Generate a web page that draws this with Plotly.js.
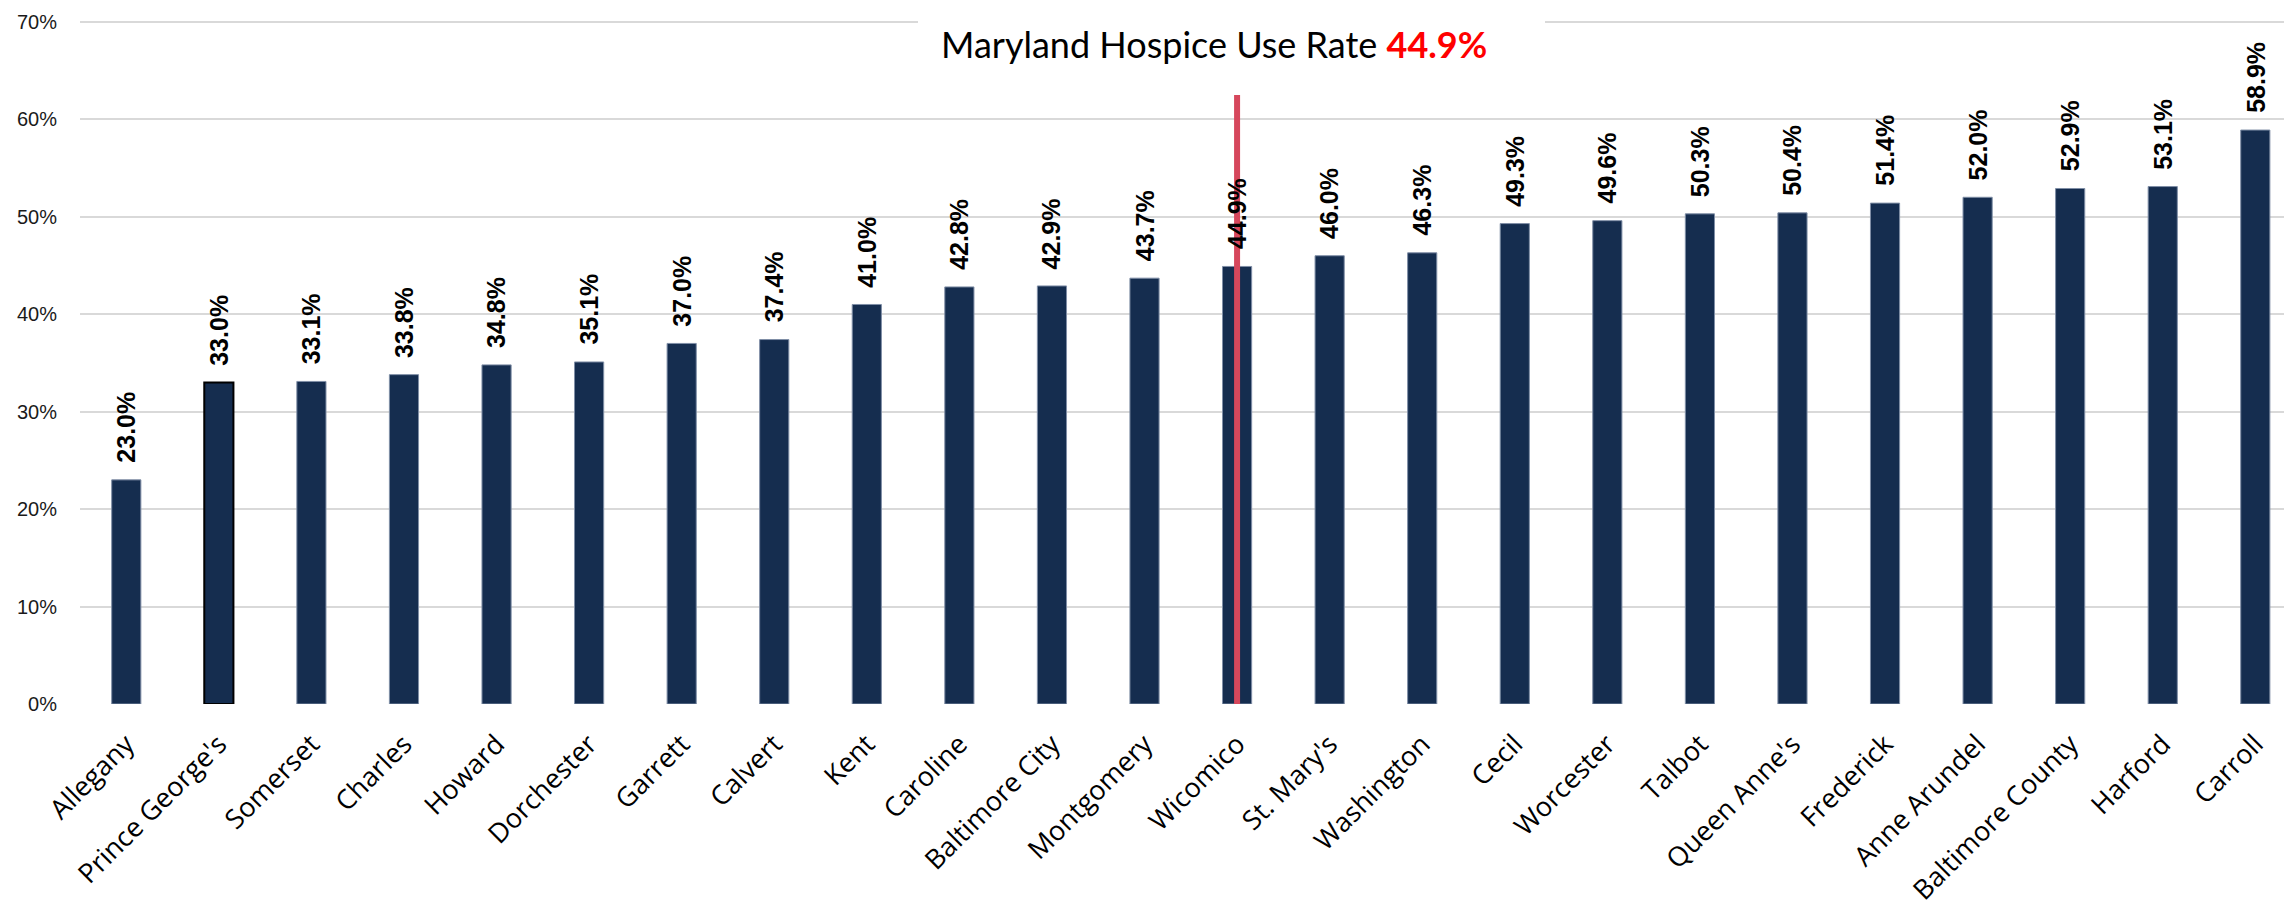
<!DOCTYPE html>
<html>
<head>
<meta charset="utf-8">
<script src="https://cdn.plot.ly/plotly-3.0.1.min.js"></script>
<style>html,body{margin:0;padding:0;background:#fff;}#chart{width:2284px;height:900px;}</style>
</head>
<body>
<div id="chart"></div>
<script>
const counties = ["Allegany","Prince George's","Somerset","Charles","Howard","Dorchester","Garrett","Calvert","Kent","Caroline","Baltimore City","Montgomery","Wicomico","St. Mary's","Washington","Cecil","Worcester","Talbot","Queen Anne's","Frederick","Anne Arundel","Baltimore County","Harford","Carroll"];
const useRate = [23.0,33.0,33.1,33.8,34.8,35.1,37.0,37.4,41.0,42.8,42.9,43.7,44.9,46.0,46.3,49.3,49.6,50.3,50.4,51.4,52.0,52.9,53.1,58.9];
const stateCounty = "Wicomico";
const stateRate = 44.9;
const stateLineTop = 62.5;
const yTicks = [0,10,20,30,40,50,60,70];
const yTickText = ["0%","10%","20%","30%","40%","50%","60%","70%"];

const outlineColors = counties.map(c => c === "Prince George's" ? "#000000" : "#7f8ea6");
const outlineWidths = counties.map(c => c === "Prince George's" ? 2 : 1);

const bars = {
  type: "bar",
  x: counties,
  y: useRate,
  width: 0.315,
  marker: {color: "#152d4f", line: {color: outlineColors, width: outlineWidths}},
  hoverinfo: "x+y"
};

const labelAnns = counties.map((c, i) => ({
  x: c, y: useRate[i], xref: "x", yref: "y",
  text: "<b>" + useRate[i].toFixed(1) + "%</b>",
  textangle: -90, showarrow: false,
  xanchor: "center", yanchor: "bottom", yshift: 15,
  font: {family: "Liberation Sans, Arial, sans-serif", size: 25, color: "#000"}
}));

const titleAnn = {
  xref: "paper", yref: "paper", x: (1214 - 80) / 2204, y: (704 - 44) / 687,
  xanchor: "center", yanchor: "middle", showarrow: false,
  text: "Maryland Hospice Use Rate <b><span style=\"color:#ff0000\">" + stateRate.toFixed(1) + "%</span></b>",
  font: {family: "Lato, Liberation Sans, sans-serif", size: 36, color: "#000"}
};

const layout = {
  width: 2284, height: 900,
  margin: {l: 80, r: 0, t: 17, b: 196},
  paper_bgcolor: "#fff", plot_bgcolor: "#fff",
  showlegend: false,
  xaxis: {
    type: "category",
    range: [-0.5, 23.31],
    tickangle: -45,
    showgrid: false, zeroline: false, showline: false, ticks: "",
    ticklabelstandoff: 18,
    tickfont: {family: "Open Sans, sans-serif", size: 27, color: "#000"}
  },
  yaxis: {
    range: [0, 70.5],
    tickvals: yTicks, ticktext: yTickText,
    showgrid: true, gridcolor: "#d9d9d9", gridwidth: 2,
    zeroline: false, showline: false, ticks: "",
    ticklabelstandoff: 22,
    tickfont: {family: "Liberation Sans, Arial, sans-serif", size: 20, color: "#1a1a1a"}
  },
  shapes: [{
    type: "line", xref: "x", yref: "y",
    x0: stateCounty, x1: stateCounty, y0: 0, y1: stateLineTop,
    line: {color: "#d6475c", width: 6}, layer: "above"
  }, {
    type: "rect", xref: "paper", yref: "y",
    x0: (918 - 80) / 2204, x1: (1545 - 80) / 2204, y0: 69.7, y1: 70.3,
    fillcolor: "#ffffff", line: {width: 0}, layer: "above"
  }],
  annotations: labelAnns.concat([titleAnn])
};

Plotly.newPlot("chart", [bars], layout, {displayModeBar: false, staticPlot: true});
</script>
</body>
</html>
